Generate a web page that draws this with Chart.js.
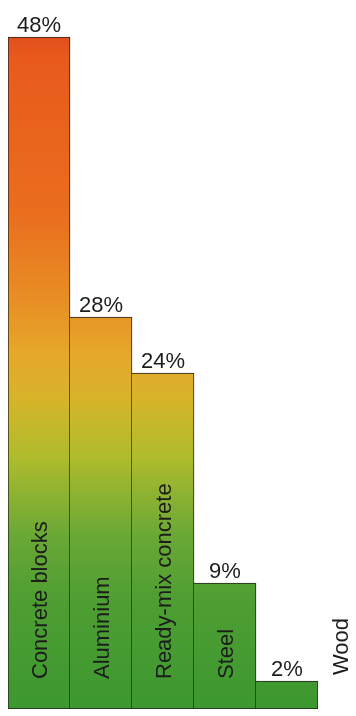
<!DOCTYPE html>
<html>
<head>
<meta charset="utf-8">
<script src="https://cdn.jsdelivr.net/npm/chart.js@4/dist/chart.umd.min.js"></script>
<style>
  html, body { margin: 0; padding: 0; background: #ffffff; }
  #wrap { width: 356px; height: 716px; position: relative; }
</style>
</head>
<body>
<div id="wrap"><canvas id="chart" width="356" height="716"></canvas></div>
<script>
// Market share by building material (%)
const categories = ['Concrete blocks', 'Aluminium', 'Ready-mix concrete', 'Steel', 'Wood'];
const shares = [48, 28, 24, 9, 2];
const valueLabels = shares.map(v => v + '%');

const FONT = "'Liberation Sans', Arial, Helvetica, sans-serif";
const INK = '#1c1c1c';

// Warm-to-green fade shared by all bars, anchored to the value axis
const fadeStops = [
  [0.000, '#e24e1c'],
  [0.030, '#e85a1c'],
  [0.265, '#ea6e1e'],
  [0.390, '#e88e24'],
  [0.473, '#e6a82a'],
  [0.540, '#d6b42a'],
  [0.622, '#b0bc2c'],
  [0.741, '#6aa836'],
  [0.838, '#4e9e32'],
  [1.000, '#3c9830']
];

let cachedFade = null;
function barFill(ctx) {
  const chart = ctx.chart;
  const yScale = chart.scales.y;
  if (!chart.chartArea || !yScale) return '#e88e24';
  const top = yScale.getPixelForValue(Math.max(...shares));
  const bottom = yScale.getPixelForValue(0);
  if (cachedFade && cachedFade.top === top && cachedFade.bottom === bottom) return cachedFade.g;
  const g = chart.ctx.createLinearGradient(0, top, 0, bottom);
  fadeStops.forEach(([t, c]) => g.addColorStop(t, c));
  cachedFade = { top, bottom, g };
  return g;
}

// Value labels above each bar and rotated category names
const barLabels = {
  id: 'barLabels',
  afterDatasetsDraw(chart) {
    const ctx = chart.ctx;
    const meta = chart.getDatasetMeta(0);
    meta.data.forEach((bar, i) => {
      const { x, y, base, width } = bar.getProps(['x', 'y', 'base', 'width'], true);
      ctx.save();
      ctx.fillStyle = INK;
      ctx.font = '22px ' + FONT;
      ctx.textAlign = 'center';
      ctx.textBaseline = 'alphabetic';
      ctx.fillText(valueLabels[i], x, y - 5);
      ctx.restore();

      const name = categories[i];
      ctx.save();
      ctx.fillStyle = INK;
      ctx.font = '22px ' + FONT;
      const textLen = ctx.measureText(name).width;
      const start = base - 30;
      const fitsInside = (start - y) > textLen + 12;
      const tx = fitsInside ? x + 8 : x + width / 2 + 30;
      const ty = fitsInside ? start : base - 34;
      ctx.translate(tx, ty);
      ctx.rotate(-Math.PI / 2);
      ctx.textAlign = 'left';
      ctx.textBaseline = 'alphabetic';
      ctx.fillText(name, 0, 0);
      ctx.restore();
    });
  }
};

new Chart(document.getElementById('chart'), {
  type: 'bar',
  data: {
    labels: categories,
    datasets: [{
      data: shares,
      backgroundColor: barFill,
      borderColor: '#23231a',
      borderWidth: (ctx) => ({ top: 1, bottom: 1, right: 1, left: ctx.dataIndex === 0 ? 1 : 0 }),
      borderSkipped: false,
      barPercentage: 1,
      categoryPercentage: 1
    }]
  },
  options: {
    responsive: false,
    animation: false,
    devicePixelRatio: 1,
    layout: { padding: { left: 8, right: 38, top: 9, bottom: 7 } },
    plugins: {
      legend: { display: false },
      tooltip: { enabled: false }
    },
    scales: {
      x: { display: false },
      y: { display: false, min: 0, max: 50 }
    }
  },
  plugins: [barLabels]
});
</script>
</body>
</html>
